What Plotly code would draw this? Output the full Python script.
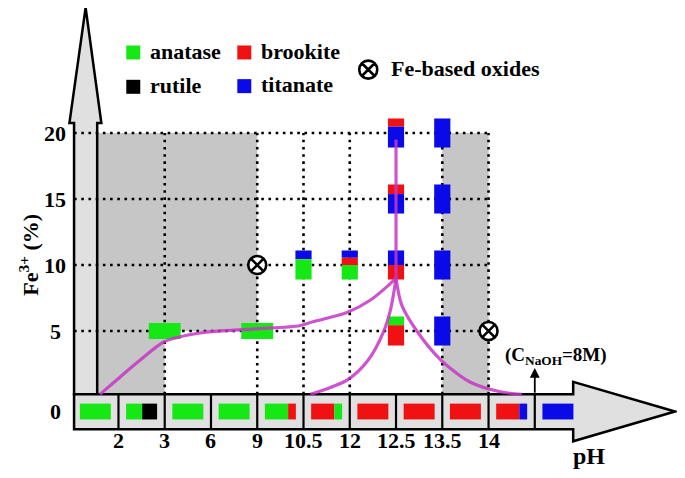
import plotly.graph_objects as go

# pH steps written under the arrow (schematic, one cell apart)
ph_labels = ["2", "3", "6", "9", "10.5", "12", "12.5", "13.5", "14"]
fe_levels = [5, 10, 15, 20]

PHASE_COLORS = {
    "anatase": "#16e816",
    "rutile": "#000000",
    "brookite": "#f01212",
    "titanate": "#0a0ae8",
}

# Fe3+ = 0 %: phases found in each cell of the pH arrow, left to right
bar_cells = [
    [("anatase", 1.0)],
    [("anatase", 0.52), ("rutile", 0.48)],
    [("anatase", 1.0)],
    [("anatase", 1.0)],
    [("anatase", 0.75), ("brookite", 0.25)],
    [("brookite", 0.75), ("anatase", 0.25)],
    [("brookite", 1.0)],
    [("brookite", 1.0)],
    [("brookite", 1.0)],
    [("brookite", 0.75), ("titanate", 0.25)],
    [("titanate", 1.0)],
]

# doped samples shown as wide single-phase blocks
flat_ph = ["3", "9"]
flat_fe = [5, 5]
flat_phase = ["anatase", "anatase"]

# doped samples shown as stacked columns (phases top to bottom)
stack_ph = ["10.5", "12", "12.5", "12.5", "12.5", "12.5", "13.5", "13.5", "13.5", "13.5"]
stack_fe = [10, 10, 5, 10, 15, 20, 5, 10, 15, 20]
stack_phases = [
    [("titanate", 0.3), ("anatase", 0.7)],
    [("titanate", 0.25), ("brookite", 0.25), ("anatase", 0.5)],
    [("anatase", 0.3), ("brookite", 0.7)],
    [("titanate", 0.5), ("brookite", 0.5)],
    [("brookite", 0.33), ("titanate", 0.67)],
    [("brookite", 0.28), ("titanate", 0.72)],
    [("titanate", 1.0)],
    [("titanate", 1.0)],
    [("titanate", 1.0)],
    [("titanate", 1.0)],
]

# Fe-based oxide samples
oxide_ph = ["9", "14"]
oxide_fe = [10, 5]

# phase-boundary curves (position along the pH arrow, Fe %)
left_curve_x = [0.6, 1.03, 1.47, 2.0, 2.76, 3.9, 4.92, 5.2, 5.94, 6.45, 6.85, 7.0]
left_curve_y = [0.2, 1.5, 2.8, 4.2, 4.85, 5.15, 5.4, 5.7, 6.4, 7.35, 8.5, 9.0]
mid_curve_x = [5.15, 5.95, 6.4, 6.72, 6.88, 6.97, 7.0]
mid_curve_y = [0.2, 1.3, 2.8, 4.85, 6.6, 8.3, 9.0]
right_curve_x = [7.0, 7.12, 7.45, 7.97, 8.6, 9.25, 9.72]
right_curve_y = [9.0, 7.0, 5.0, 2.8, 1.14, 0.4, 0.2]
stem_x = [7.0, 7.0]
stem_y = [9.0, 19.5]

FONT = "Liberation Serif, Times New Roman, serif"
CURVE = "#c637c6"
GRID = dict(color="black", width=2.6, dash="2.6px,4.6px")


def ph_x(label):
    return ph_labels.index(label) + 1


shapes = []


def add_rect(x0, x1, y0, y1, color):
    shapes.append(dict(type="rect", xref="x", yref="y", x0=x0, x1=x1, y0=y0, y1=y1,
                       fillcolor=color, line=dict(width=0), layer="below"))


def add_line(x0, y0, x1, y1, line):
    shapes.append(dict(type="line", xref="x", yref="y", x0=x0, y0=y0, x1=x1, y1=y1,
                       line=line, layer="below"))


# shaded zones
add_rect(0.54, 2, 0.2, 20, "#c6c6c6")
add_rect(2, 4, 5, 20, "#c6c6c6")
add_rect(8, 9, 0.2, 20, "#c6c6c6")

# Fe axis arrow
shapes.append(dict(type="path", xref="x", yref="y", layer="below",
                   path="M 0.04,0.2 L 0.04,20.76 L -0.06,20.76 L 0.29,29.5 "
                        "L 0.63,20.76 L 0.54,20.76 L 0.54,0.2 Z",
                   fillcolor="#e0e0e0", line=dict(color="black", width=2.5)))
# pH axis arrow
shapes.append(dict(type="path", xref="x", yref="y", layer="below",
                   path="M 0.04,0.2 L 10.83,0.2 L 10.83,1.15 L 13.03,-1.1 "
                        "L 10.83,-3.35 L 10.83,-2.45 L 0.04,-2.45 Z",
                   fillcolor="#e0e0e0", line=dict(color="black", width=2.5)))
for i in range(1, 11):
    add_line(i, -2.45, i, 0.2, dict(color="black", width=2.2))

# dotted grid
for fe in fe_levels:
    add_line(0.04, fe, 9, fe, GRID)
for xv in [2, 4, 5, 6, 8, 9]:
    add_line(xv, 0.2, xv, 20, GRID)

# Fe = 0 cells
for i, cell in enumerate(bar_cells):
    left = i + 0.165
    for phase, frac in cell:
        right = left + 0.67 * frac
        add_rect(left, right, -1.7, -0.5, PHASE_COLORS[phase])
        left = right

# wide single-phase blocks
for ph, fe, phase in zip(flat_ph, flat_fe, flat_phase):
    add_rect(ph_x(ph) - 0.345, ph_x(ph) + 0.345, fe - 0.6, fe + 0.6, PHASE_COLORS[phase])

# stacked columns
for ph, fe, parts in zip(stack_ph, stack_fe, stack_phases):
    top = fe + 1.1
    for phase, frac in parts:
        bottom = top - 2.2 * frac
        add_rect(ph_x(ph) - 0.175, ph_x(ph) + 0.175, bottom, top, PHASE_COLORS[phase])
        top = bottom

fig = go.Figure()

for cx, cy in [(left_curve_x, left_curve_y), (mid_curve_x, mid_curve_y),
               (right_curve_x, right_curve_y), (stem_x, stem_y)]:
    fig.add_trace(go.Scatter(
        x=cx, y=cy, mode="lines", opacity=0.85,
        line=dict(color=CURVE, width=3.2, shape="spline", smoothing=0.8),
        hoverinfo="skip",
    ))

fig.add_trace(go.Scatter(
    x=[ph_x(p) for p in oxide_ph], y=oxide_fe, mode="markers",
    marker=dict(symbol="circle-x", size=18, color="white",
                line=dict(color="black", width=2.6)),
    hoverinfo="skip",
))

# legend
legend_x = [1.32, 1.32, 3.72, 3.72]
legend_y = [26.1, 23.5, 26.1, 23.55]
legend_names = ["anatase", "rutile", "brookite", "titanate"]
fig.add_trace(go.Scatter(
    x=legend_x, y=legend_y, mode="markers",
    marker=dict(symbol="square", size=14, color=[PHASE_COLORS[n] for n in legend_names]),
    hoverinfo="skip",
))
fig.add_trace(go.Scatter(
    x=[6.4], y=[24.8], mode="markers",
    marker=dict(symbol="circle-x", size=18, color="white",
                line=dict(color="black", width=2.6)),
    hoverinfo="skip",
))

annotations = []


def add_text(text, x, y, size, xanchor="center", angle=0):
    annotations.append(dict(text=f"<b>{text}</b>", x=x, y=y, xref="x", yref="y",
                            showarrow=False, xanchor=xanchor, yanchor="middle",
                            textangle=angle,
                            font=dict(family=FONT, size=size, color="black")))


for lx, ly, name in zip(legend_x, legend_y, legend_names):
    add_text(name, lx + 0.31, ly + 0.1, 22, xanchor="left")
add_text("Fe-based oxides", 6.85, 24.85, 22, xanchor="left")

for i, lab in enumerate(ph_labels):
    add_text(lab, i + 1, -3.3, 22)
add_text("pH", 11.17, -4.5, 24)

for lab, fe in zip(["0", "5", "10", "15", "20"], [-1.1] + fe_levels):
    add_text(lab, -0.37, fe, 22)
add_text("Fe<sup>3+</sup> (%)", -0.93, 10.8, 22, angle=-90)

add_text("(C<sub>NaOH</sub>=8M)", 10.46, 3.1, 19)
annotations.append(dict(x=10, y=2.2, ax=10, ay=0.2, xref="x", yref="y",
                        axref="x", ayref="y", text="", showarrow=True,
                        arrowhead=2, arrowsize=1.1, arrowwidth=1.8, arrowcolor="black"))

# the page puts the figure 8 px in from the top-left corner; ranges allow for it
fig.update_layout(
    width=685, height=478,
    margin=dict(l=0, r=0, t=0, b=0),
    paper_bgcolor="white", plot_bgcolor="white",
    showlegend=False,
    xaxis=dict(range=[-1.388, 13.42], visible=False, fixedrange=True),
    yaxis=dict(range=[-6.742, 29.47], visible=False, fixedrange=True),
    shapes=shapes,
    annotations=annotations,
)

fig.write_html("out.html")
